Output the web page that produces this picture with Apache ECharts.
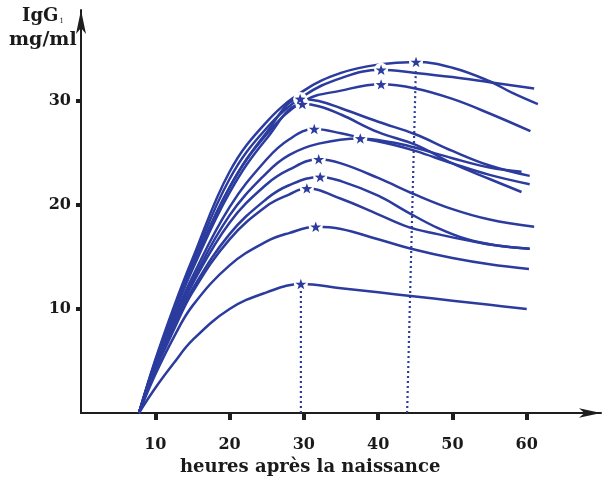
<!DOCTYPE html>
<html><head><meta charset="utf-8">
<script src="https://cdn.jsdelivr.net/npm/echarts@6/dist/echarts.min.js"></script>
<style>html,body{margin:0;padding:0;background:#fff}#c{width:607px;height:485px}</style>
</head><body><div id="c"></div>
<script>
const xTicks = [10, 20, 30, 40, 50, 60];
const yTicks = [10, 20, 30];
const xTitle = 'heures après la naissance';
const yTitle1 = 'IgG';
const yTitleSub = '1';
const yTitle2 = 'mg/ml';

const c1 = [[7.8,0],[10,5.1],[12.5,10.2],[15,14.8],[20,23.2],[25,28.0],[30,31.0],[35,32.7],[40,33.5],[45.1,33.75],[50,33.2],[55,31.9],[58,30.8],[61.5,29.7]];
const c2 = [[7.8,0],[10,5.0],[12.5,9.9],[15,14.4],[20,22.5],[25,27.4],[30,30.5],[35,32.2],[40.4,33.0],[45,32.7],[50,32.3],[55,31.8],[61,31.2]];
const c3 = [[7.8,0],[10,4.8],[12.5,9.6],[15,14.0],[20,21.7],[25,26.8],[30,30.0],[35,31.0],[40.4,31.6],[45,31.2],[50,30.2],[55,28.8],[60.5,27.1]];
const c4 = [[7.8,0],[10,4.9],[12.5,9.7],[15,14.1],[20,21.7],[25,27.0],[29.5,30.2],[32,30.0],[35,29.3],[40,28.0],[45,26.8],[50,25.2],[55,23.8],[60.4,22.8]];
const c5 = [[7.8,0],[10,4.8],[12.5,9.5],[15,13.8],[20,21.2],[25,26.4],[29.8,29.7],[32,29.5],[35,28.7],[40,27.0],[45,25.8],[50,24.0],[55,22.5],[59.3,21.25]];
const c6 = [[7.8,0],[10,4.6],[12.5,9.1],[15,13.1],[20,19.8],[25,24.4],[28,26.3],[31.4,27.3],[35,26.9],[38,26.4],[42,25.8],[45,25.2],[50,24.0],[55,22.9],[60.4,22.0]];
const c7 = [[7.8,0],[10,4.5],[12.5,8.8],[15,12.7],[20,19.0],[25,23.1],[28,24.8],[32,25.9],[37.6,26.4],[42,26.0],[45,25.5],[50,24.5],[55,23.6],[59.3,23.2]];
const c8 = [[7.8,0],[10,4.4],[12.5,8.6],[15,12.4],[20,18.3],[25,22.0],[28,23.4],[32,24.4],[35,24.0],[40,22.6],[45,21.0],[50,19.6],[55,18.6],[61,17.9]];
const c9 = [[7.8,0],[10,4.2],[12.5,8.3],[15,11.9],[20,17.2],[25,20.6],[28,21.9],[32.2,22.7],[35,22.3],[40,20.9],[44,19.3],[48,17.8],[52,16.7],[56,16.1],[60.4,15.8]];
const c10 = [[7.8,0],[10,4.1],[12.5,8.0],[15,11.6],[20,16.7],[25,19.9],[28,21.0],[30.4,21.6],[35,20.6],[40,19.1],[44,17.9],[48,17.2],[52,16.6],[56,16.1],[60.4,15.8]];
const c11 = [[7.8,0],[10,3.7],[12.5,7.3],[15,10.3],[20,14.2],[25,16.5],[28,17.3],[31.6,17.9],[35,17.7],[40,16.7],[45,15.7],[50,14.9],[55,14.3],[60.3,13.85]];
const c12 = [[7.8,0],[10,2.4],[12.5,4.8],[15,7.0],[20,10.0],[25,11.6],[29.6,12.4],[35,12.0],[40,11.6],[45,11.2],[50,10.8],[55,10.4],[60,10.0]];
const curves = [c1, c2, c3, c4, c5, c6, c7, c8, c9, c10, c11, c12];

const peaks = [[45.1,33.75],[40.4,33.0],[40.4,31.6],[29.5,30.2],[29.8,29.7],[31.4,27.3],[37.6,26.4],[32,24.4],[32.2,22.7],[30.4,21.6],[31.6,17.9],[29.6,12.4]];
const drop1 = [[29.6,0],[29.6,12.4]];
const drop2 = [[43.9,0],[45.1,33.75]];

const BLUE = '#2b3c9e';
const AX = '#1e1e1e';
const FONT = 'DejaVu Serif';
const STAR = 'path://M0,-10 L2.35,-3.24 L9.51,-3.09 L3.8,1.24 L5.88,8.09 L0,4 L-5.88,8.09 L-3.8,1.24 L-9.51,-3.09 L-2.35,-3.24 Z';

const series = [];
curves.forEach(function (c) {
  series.push({
    type: 'line', data: c, smooth: 0.4, showSymbol: false,
    lineStyle: { color: BLUE, width: 2.5 }, z: 2, silent: true
  });
});
[drop1, drop2].forEach(function (d) {
  series.push({
    type: 'line', data: d, showSymbol: false,
    lineStyle: { color: BLUE, width: 2.2, type: [2, 3] }, z: 2, silent: true
  });
});
series.push({
  type: 'scatter', data: peaks, symbol: 'circle', symbolSize: 14,
  itemStyle: { color: '#fff', opacity: 1 }, z: 3, silent: true
});
series.push({
  type: 'scatter', data: peaks, symbol: STAR, symbolSize: 11, symbolKeepAspect: true,
  itemStyle: { color: BLUE, opacity: 1 }, z: 4, silent: true
});

const chart = echarts.init(document.getElementById('c'), null, { renderer: 'canvas' });
chart.setOption({
  animation: false,
  backgroundColor: '#fff',
  grid: { left: 81, right: 6, top: 10, bottom: 72, containLabel: false, outerBoundsMode: 'none' },
  xAxis: {
    type: 'value', min: 0, max: 70,
    axisLine: { show: true, onZero: false, symbol: ['none', 'arrow'], symbolSize: [7, 22],
      lineStyle: { color: AX, width: 2 } },
    axisTick: { show: true, customValues: xTicks, length: 7, lineStyle: { color: AX, width: 4 } },
    axisLabel: { customValues: xTicks, margin: 24, color: '#1a1a1a', fontFamily: FONT, fontWeight: 'bold', fontSize: 16 },
    splitLine: { show: false }
  },
  yAxis: {
    type: 'value', min: 0, max: 38.75,
    axisLine: { show: true, onZero: false, symbol: ['none', 'arrow'], symbolSize: [7.5, 24],
      lineStyle: { color: AX, width: 2 } },
    axisTick: { show: true, customValues: yTicks, length: 5, lineStyle: { color: AX, width: 4 } },
    axisLabel: { customValues: yTicks, margin: 10, color: '#1a1a1a', fontFamily: FONT, fontWeight: 'bold', fontSize: 16 },
    splitLine: { show: false }
  },
  graphic: [
    { type: 'text', left: 22, top: 7, style: { text: '{a|' + yTitle1 + '}{s|' + yTitleSub + '}',
      rich: { a: { fontFamily: FONT, fontWeight: 'bold', fontSize: 18, fill: '#1a1a1a' },
              s: { fontFamily: FONT, fontSize: 7, fill: '#1a1a1a', padding: [10, 0, 0, 1] } } } },
    { type: 'text', left: 9, top: 31, style: { text: yTitle2, fontFamily: FONT, fontWeight: 'bold', fontSize: 19, fill: '#1a1a1a' } },
    { type: 'text', left: 180, top: 458, style: { text: xTitle, fontFamily: FONT, fontWeight: 'bold', fontSize: 18, fill: '#1a1a1a' } }
  ],
  series: series
});
</script>
</body></html>
